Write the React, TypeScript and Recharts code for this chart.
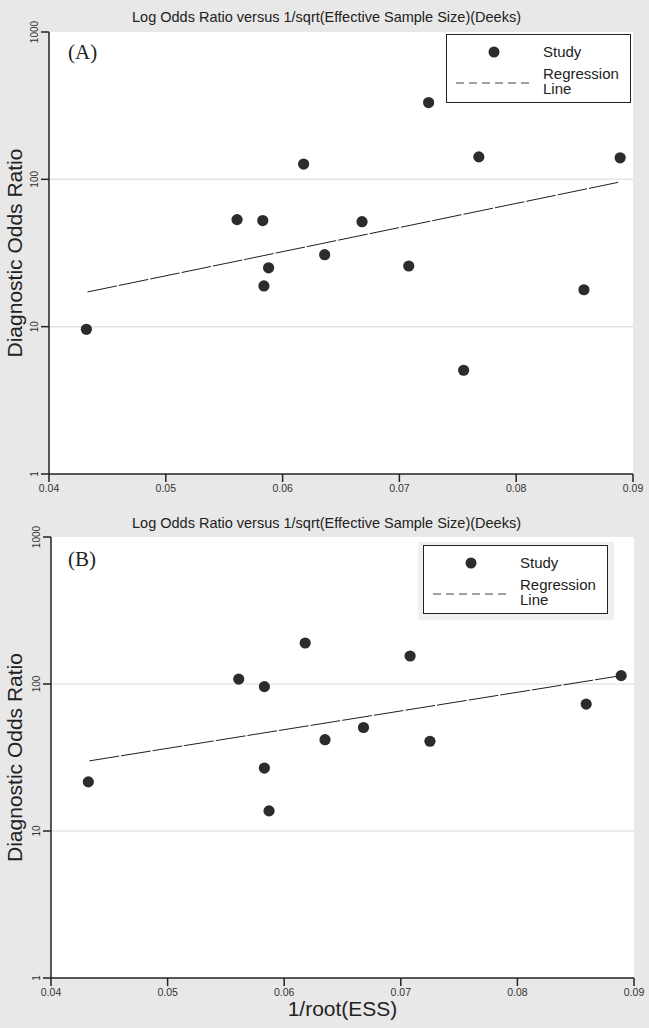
import React from 'react';
import { ScatterChart, Scatter, XAxis, YAxis, CartesianGrid, Legend } from 'recharts';

const FONT = '"Liberation Sans", Arial, sans-serif';
const TITLE = 'Log Odds Ratio versus 1/sqrt(Effective Sample Size)(Deeks)';

const xTicks = [0.04, 0.05, 0.06, 0.07, 0.08, 0.09];
const yTicks = [1, 10, 100, 1000];

// panel A: studies (1/sqrt(ESS), DOR)
const essA = [0.0432, 0.0561, 0.0583, 0.0588, 0.0584, 0.0618, 0.0636, 0.0668, 0.0708, 0.0725, 0.0755, 0.0768, 0.0858, 0.0889];
const dorA = [9.6, 53.3, 52.5, 25.1, 18.9, 127, 30.8, 51.6, 25.8, 332, 5.06, 142, 17.8, 140];
const fitEssA = [0.0433, 0.0889];
const fitDorA = [17.2, 96];

// panel B
const essB = [0.0432, 0.0561, 0.0583, 0.0583, 0.0587, 0.0618, 0.0635, 0.0668, 0.0708, 0.0725, 0.0859, 0.0889];
const dorB = [21.6, 108, 96, 26.8, 13.7, 190, 41.8, 50.6, 155, 40.8, 73, 114];
const fitEssB = [0.0433, 0.0889];
const fitDorB = [30, 114];

const toPts = (xs: number[], ys: number[]) => xs.map((x, i) => ({ x, y: ys[i] }));

function RotTick(props: any) {
  const { x, y, payload } = props;
  return (
    <text x={x} y={y} transform={`rotate(-90 ${x} ${y})`} textAnchor="middle"
      fontSize={10} fill="#333" fontFamily={FONT}>
      {payload.value}
    </text>
  );
}

function YLabel(props: any) {
  const vb = props.viewBox || {};
  const x = vb.x + 22;
  const y = vb.y + vb.height / 2;
  return (
    <text x={x} y={y} transform={`rotate(-90 ${x} ${y})`} textAnchor="middle"
      fontSize={21} fill="#222" fontFamily={FONT}>
      Diagnostic Odds Ratio
    </text>
  );
}

function Dot(props: any) {
  return <circle cx={props.cx} cy={props.cy} r={5.6} fill="#2c2c2c" />;
}

function LegendBox({ backdrop }: any) {
  const box = (
    <div style={{
      width: 185, height: 69, background: '#fff', border: '1.5px solid #222',
      boxSizing: 'border-box', position: 'relative', fontFamily: FONT, fontSize: 15, color: '#222',
    }}>
      <svg width={90} height={62} style={{ position: 'absolute', left: 0, top: 0 }}>
        <circle cx={47} cy={17} r={5.5} fill="#2c2c2c" />
        <line x1={9} x2={84} y1={48} y2={48} stroke="#444" strokeWidth={1} strokeDasharray="8 5" />
      </svg>
      <div style={{ position: 'absolute', left: 96, top: 9, lineHeight: '15px' }}>Study</div>
      <div style={{ position: 'absolute', left: 96, top: 31, lineHeight: '15px' }}>Regression<br />Line</div>
    </div>
  );
  if (!backdrop) return box;
  return <div style={{ background: '#f0f0f0', padding: '3px 6px 6px 5px', width: 185 }}>{box}</div>;
}

function Panel(p: any) {
  return (
    <div style={{ position: 'absolute', left: 0, top: p.top, width: 649, height: p.height }}>
      <ScatterChart width={649} height={p.height}
        margin={{ top: p.plotTop, right: p.right, left: 0, bottom: 0 }}>
        <CartesianGrid fill="#fff" stroke="#e4e4e4" strokeWidth={1.5} vertical={false} horizontalValues={[10, 100]} />
        <XAxis type="number" dataKey="x" domain={[0.04, 0.09]} ticks={xTicks} allowDataOverflow
          height={p.xAxisH} tickSize={8} tickMargin={3}
          tick={{ fontSize: 10.5, fill: '#333', fontFamily: FONT }}
          axisLine={{ stroke: '#222', strokeWidth: 1.5 }} tickLine={{ stroke: '#222', strokeWidth: 1.5 }}
          label={p.xLabel ? { value: p.xLabel, position: 'insideBottom', offset: 12, fontSize: 21, fill: '#222', fontFamily: FONT } : undefined}
        />
        <YAxis type="number" dataKey="y" scale="log" domain={[1, 1000]} ticks={yTicks} allowDataOverflow
          width={p.yAxisW} tickSize={8} tickMargin={3} tick={<RotTick />}
          axisLine={{ stroke: '#222', strokeWidth: 1.5 }} tickLine={{ stroke: '#222', strokeWidth: 1.5 }}
          label={<YLabel />}
        />
        <Scatter data={toPts(p.fitX, p.fitY)} shape={() => <g />} isAnimationActive={false}
          line={{ stroke: '#1f1f1f', strokeWidth: 1, strokeDasharray: '30 2' }} legendType="none" />
        <Scatter data={toPts(p.xs, p.ys)} shape={<Dot />} isAnimationActive={false} />
        <Legend content={<LegendBox backdrop={p.backdrop} />} layout="vertical" align="center" verticalAlign="middle"
          wrapperStyle={{ left: p.legendLeft, top: p.legendTop, width: p.backdrop ? 196 : 185 }} />
      </ScatterChart>
      <div style={{
        position: 'absolute', left: 0, right: 0, top: p.titleTop, textAlign: 'center',
        fontFamily: FONT, fontSize: 14.5, color: '#222', paddingLeft: 4, lineHeight: '17px',
      }}>{TITLE}</div>
      <div style={{
        position: 'absolute', left: 68, top: p.tagTop, fontFamily: '"Liberation Serif", serif',
        fontSize: 21, color: '#222', lineHeight: 1,
      }}>{p.tag}</div>
    </div>
  );
}

export default function App() {
  return (
    <div style={{ position: 'fixed', left: 0, top: 0, width: 649, height: 1028, background: '#e8e8e8', overflow: 'hidden' }}>
      <Panel top={0} height={520} plotTop={32} right={16} xAxisH={46} yAxisW={49}
        xs={essA} ys={dorA} fitX={fitEssA} fitY={fitDorA}
        legendLeft={446} legendTop={34} titleTop={9} tag="(A)" tagTop={42} />
      <Panel top={505} height={523} plotTop={32} right={15} xAxisH={50} yAxisW={51}
        xs={essB} ys={dorB} fitX={fitEssB} fitY={fitDorB} xLabel="1/root(ESS)"
        legendLeft={418} legendTop={37} titleTop={10} tag="(B)" tagTop={44} backdrop />
    </div>
  );
}
